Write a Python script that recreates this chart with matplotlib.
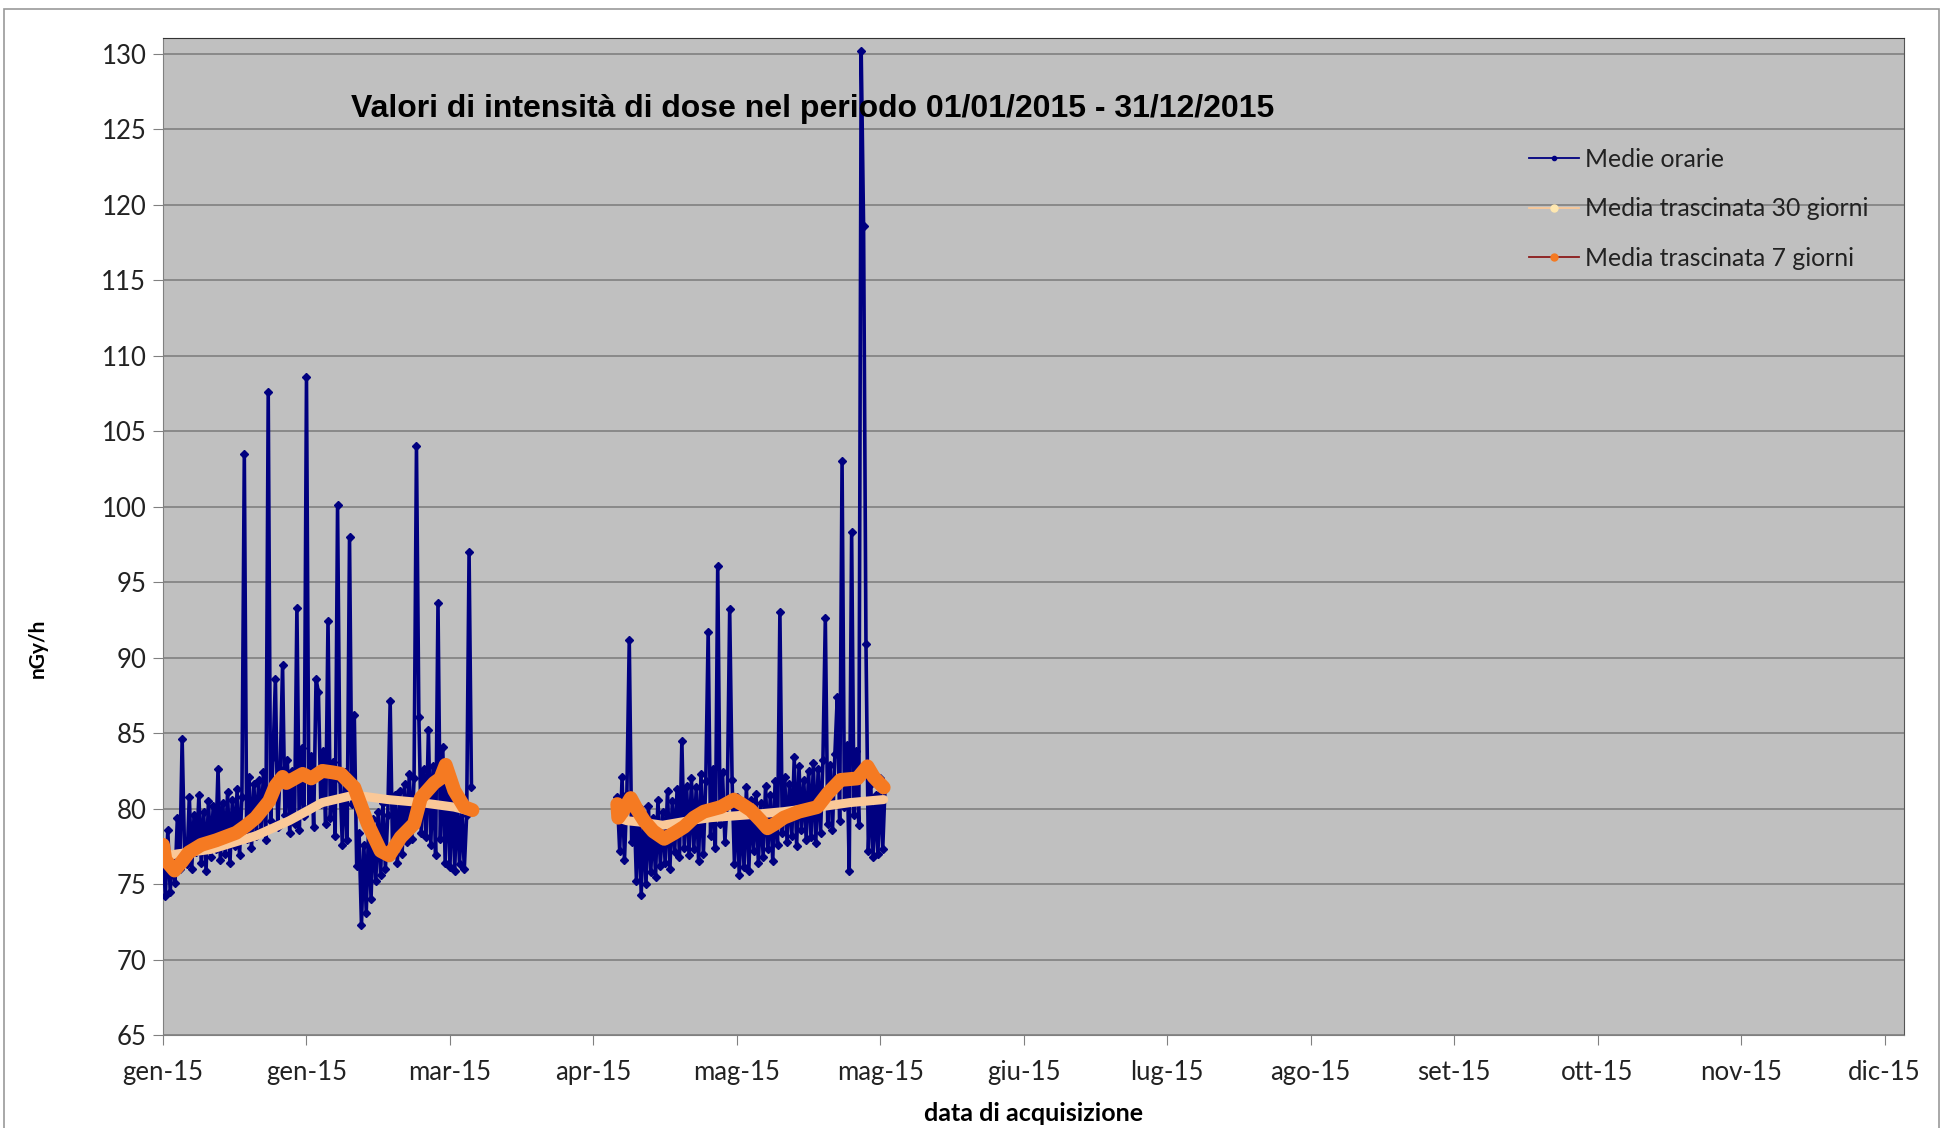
import matplotlib.pyplot as plt
from matplotlib.lines import Line2D
from matplotlib.patches import Rectangle
import numpy as np

# giorni dal 01/01/2015, passo di mezza giornata
seg1_start = 0.0
seg2_start = 95.0
step = 0.5

# medie orarie
seg1_vals = [
    77.1, 74.2, 78.6, 74.5, 77.0, 75.1, 79.4, 76.0, 84.6, 77.2,
    76.3, 80.8, 76.0, 79.6, 77.1, 80.9, 76.4, 79.8, 75.9, 80.5,
    76.8, 80.2, 77.3, 82.6, 76.6, 80.4, 77.0, 81.1, 76.4, 80.6,
    77.5, 81.3, 76.9, 80.8, 103.5, 78.0, 82.1, 77.4, 81.6, 78.2,
    81.9, 78.6, 82.4, 77.9, 107.6, 79.2, 83.4, 88.6, 78.8, 82.6,
    89.5, 79.6, 83.2, 78.4, 82.5, 79.0, 93.3, 78.6, 84.0, 79.5,
    108.6, 80.1, 83.5, 78.8, 88.6, 87.7, 80.3, 83.8, 79.0, 92.4,
    79.4, 83.1, 78.2, 100.1, 81.9, 77.6, 82.4, 77.9, 98.0, 80.3,
    86.2, 76.2, 78.4, 72.3, 77.6, 73.1, 78.9, 74.0, 79.3, 75.2,
    79.8, 75.6, 80.4, 76.0, 79.6, 87.1, 77.2, 80.9, 76.4, 81.2,
    77.0, 81.6, 77.8, 82.3, 78.0, 82.0, 104.0, 86.1, 78.4, 82.6,
    78.1, 85.2, 77.6, 82.8, 76.9, 93.6, 78.0, 84.1, 76.4, 82.5,
    76.1, 81.8, 75.9, 80.9, 76.3, 80.2, 76.0, 79.6, 97.0, 81.4,
]
seg2_vals = [
    80.8, 77.2, 82.1, 76.6, 81.0, 91.2, 77.8, 80.4, 75.2, 80.1,
    74.3, 79.6, 75.0, 80.2, 75.8, 79.4, 75.5, 80.6, 76.2, 79.8,
    76.4, 81.2, 76.0, 80.5, 77.1, 81.3, 76.8, 84.5, 77.4, 81.5,
    76.9, 82.0, 77.3, 81.4, 76.5, 82.3, 77.0, 81.8, 91.7, 78.2,
    82.6, 77.4, 96.1, 79.0, 82.4, 77.8, 80.6, 93.2, 81.9, 76.3,
    80.8, 75.6, 80.2, 76.1, 81.4, 75.9, 80.6, 77.2, 81.0, 76.4,
    80.4, 76.8, 81.5, 77.3, 80.9, 76.5, 81.8, 77.6, 93.0, 78.4,
    82.1, 77.8, 81.6, 78.2, 83.4, 77.5, 82.8, 78.6, 81.9, 77.9,
    82.5, 78.1, 83.0, 77.7, 82.6, 78.4, 83.2, 92.6, 79.0, 82.9,
    78.6, 83.6, 87.4, 79.2, 103.0, 80.1, 84.2, 75.9, 98.3, 79.6,
    83.8, 78.9, 130.2, 118.6, 90.9, 77.2, 81.6, 76.8, 80.9, 77.0,
    82.0, 77.3, 81.5,
]

# media trascinata 7 giorni
ma7_days_1 = [0, 0.5, 2.4, 4, 5.4, 8, 11.1, 15.3, 17.5, 19.4, 22.2, 23.5, 25, 25.8,
              27.5, 29.2, 31, 33.3, 35.5, 37.2, 40, 42.8, 45.5, 47.3, 49.7, 52.5,
              53.9, 56.7, 58, 59.1, 60.9, 63, 64.7]
ma7_vals_1 = [77.6, 76.6, 75.9, 76.5, 77.1, 77.6, 77.9, 78.4, 78.9, 79.4, 80.5, 81.5, 82.1, 81.7,
              82.0, 82.3, 82.0, 82.5, 82.4, 82.3, 81.4, 79.0, 77.2, 76.9, 78.1, 79.0,
              80.7, 81.7, 82.0, 82.9, 81.2, 80.1, 79.9]
ma7_days_2 = [95, 95.2, 96.5, 97.8, 99, 100.6, 102.5, 104.8, 107, 109, 111, 113.1, 116.6,
              119.4, 121, 122.9, 125, 126.4, 128, 129.8, 133, 136.8, 139, 141.7, 145.2,
              147.3, 148.6, 150.7]
ma7_vals_2 = [80.3, 79.4, 80.0, 80.7, 80.0, 79.2, 78.5, 78.0, 78.4, 78.8, 79.4, 79.8, 80.1,
              80.6, 80.3, 79.9, 79.2, 78.7, 79.0, 79.4, 79.8, 80.1, 81.0, 81.9, 82.0,
              82.8, 82.1, 81.4]

# media trascinata 30 giorni
ma30_days_1 = [1, 3, 10, 19.4, 26.4, 33.3, 40, 47, 53.9, 60.9, 64.7]
ma30_vals_1 = [76.9, 77.0, 77.3, 78.2, 79.2, 80.4, 80.9, 80.6, 80.4, 80.1, 79.8]
ma30_days_2 = [95, 97, 100, 104.5, 110, 114.5, 122.9, 129.8, 137, 143.7, 150.7]
ma30_vals_2 = [79.4, 79.2, 79.1, 78.9, 79.2, 79.4, 79.6, 79.8, 80.1, 80.4, 80.6]

tick_days = [0, 30, 60, 90, 120, 150, 180, 210, 240, 270, 300, 330, 360]
tick_labels = ["gen-15", "gen-15", "mar-15", "apr-15", "mag-15", "mag-15", "giu-15",
               "lug-15", "ago-15", "set-15", "ott-15", "nov-15", "dic-15"]

navy = "#000080"
peach = "#FAC898"
orange = "#F57A22"

fig = plt.figure(figsize=(19.43, 11.28), dpi=100)
ax = fig.add_axes([0.0839, 0.0824, 0.8961, 0.8839])
ax.set_facecolor("#C0C0C0")

x1 = seg1_start + step * np.arange(len(seg1_vals))
x2 = seg2_start + step * np.arange(len(seg2_vals))
for xs, ys in [(x1, seg1_vals), (x2, seg2_vals)]:
    ax.plot(xs, ys, color=navy, lw=2.6, marker="D", ms=4.5, zorder=3)

for xs, ys in [(ma30_days_1, ma30_vals_1), (ma30_days_2, ma30_vals_2)]:
    ax.plot(xs, ys, color=peach, lw=6.5, solid_capstyle="round", zorder=4)
for xs, ys in [(ma7_days_1, ma7_vals_1), (ma7_days_2, ma7_vals_2)]:
    ax.plot(xs, ys, color=orange, lw=10, solid_capstyle="round",
            solid_joinstyle="round", zorder=5)

ax.set_xlim(0, 364.1)
ax.set_ylim(65, 131.05)
ax.set_yticks(np.arange(65, 131, 5))
ax.set_xticks(tick_days)
ax.set_xticklabels(tick_labels)
ax.grid(axis="y", color="#7a7a7a", lw=1.1)
ax.set_axisbelow(True)
ax.tick_params(axis="both", direction="out", length=7, color="#808080",
               labelsize=18.5, labelcolor="#222222")
for lab in ax.get_xticklabels() + ax.get_yticklabels():
    lab.set_family("Lato")
ax.tick_params(axis="x", pad=11)
ax.tick_params(axis="y", pad=5)

for s in ["left", "bottom"]:
    ax.spines[s].set_color("#808080")
ax.spines["top"].set_color("#333333")
ax.spines["right"].set_color("#555555")

ax.text(0.373, 0.929, "Valori di intensità di dose nel periodo 01/01/2015 - 31/12/2015",
        transform=ax.transAxes, ha="center", va="center", fontsize=23,
        fontweight="bold", family="Liberation Sans")

ax.set_ylabel("nGy/h", fontsize=15, fontweight="bold", family="Lato")
ax.yaxis.set_label_coords(-0.066, 0.388)
ax.set_xlabel("data di acquisizione", fontsize=18, fontweight="bold", family="Lato",
              labelpad=12)

handles = [
    Line2D([], [], color=navy, lw=1.3, marker="o", ms=3),
    Line2D([], [], color=peach, lw=1.3, marker="o", ms=5, mfc="#FFE8B0", mec="#FFE8B0"),
    Line2D([], [], color="#8B1A1A", lw=1.3, marker="o", ms=5, mfc=orange, mec=orange),
]
labels = ["Medie orarie", "Media trascinata 30 giorni", "Media trascinata 7 giorni"]
ax.legend(handles, labels, loc="upper left", bbox_to_anchor=(0.772, 0.912),
          frameon=False, prop={"family": "Lato", "size": 17.8}, handlelength=2.0,
          handletextpad=0.25, labelspacing=1.07, labelcolor="#222222")

fig.patches.append(Rectangle((4 / 1943, -0.02), 1935 / 1943, 1.02 - 9 / 1128,
                             transform=fig.transFigure, fill=False,
                             edgecolor="#999999", lw=1.2))

fig.savefig("out.png", dpi=100)
